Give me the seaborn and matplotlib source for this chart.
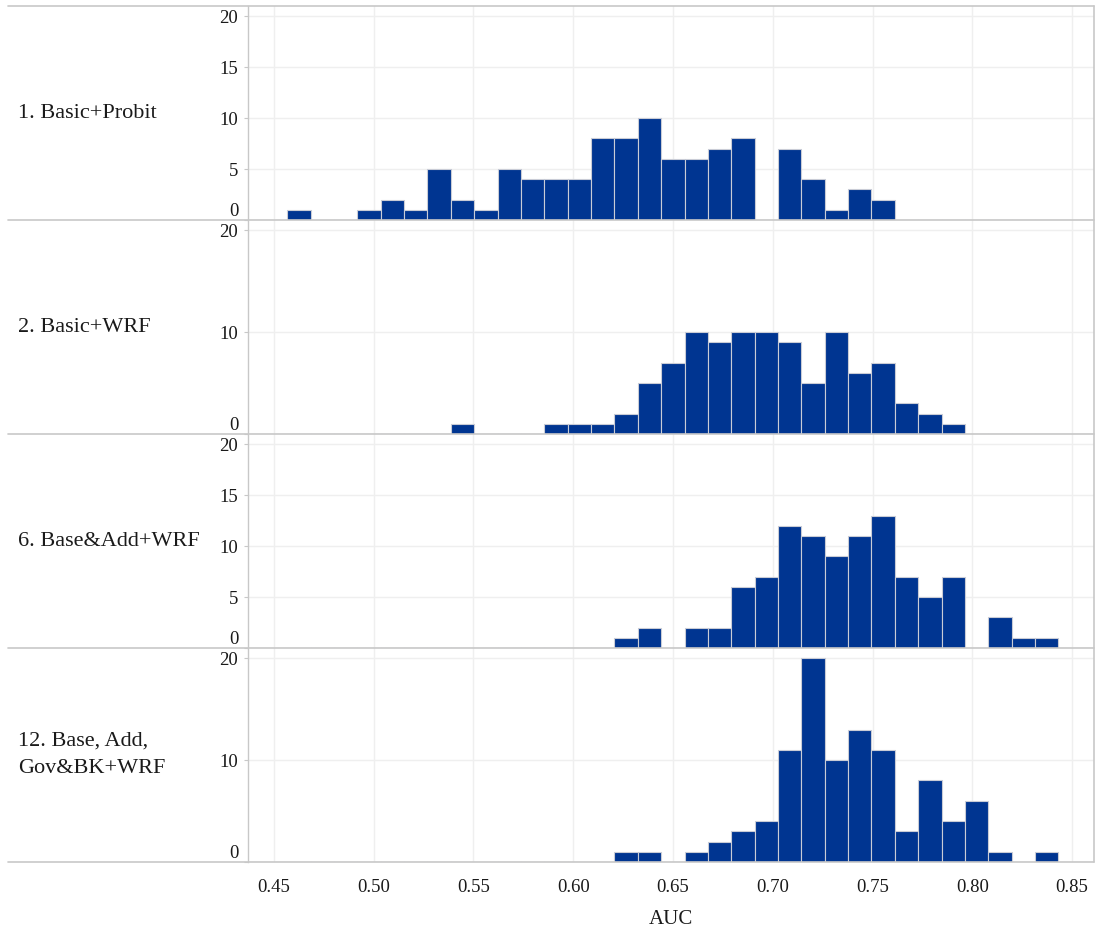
import numpy as np
import pandas as pd
import matplotlib
matplotlib.use("Agg")
import matplotlib.pyplot as plt
import matplotlib.transforms as mtransforms
from matplotlib.lines import Line2D
import seaborn as sns

# Histogram bins (AUC), 33 bins of equal width
bin_start = 0.4567
bin_width = 0.01171
n_bins = 33

model_labels = [
    "1. Basic+Probit",
    "2. Basic+WRF",
    "6. Base&Add+WRF",
    "12. Base, Add,\nGov&BK+WRF",
]

# counts per bin
counts_probit = [1, 0, 0, 1, 2, 1, 5, 2, 1, 5, 4, 4, 4, 8, 8, 10, 6, 6, 7, 8,
                 0, 7, 4, 1, 3, 2, 0, 0, 0, 0, 0, 0, 0]
counts_basic_wrf = [0, 0, 0, 0, 0, 0, 0, 1, 0, 0, 0, 1, 1, 1, 2, 5, 7, 10, 9, 10,
                    10, 9, 5, 10, 6, 7, 3, 2, 1, 0, 0, 0, 0]
counts_base_add = [0, 0, 0, 0, 0, 0, 0, 0, 0, 0, 0, 0, 0, 0, 1, 2, 0, 2, 2, 6,
                   7, 12, 11, 9, 11, 13, 7, 5, 7, 0, 3, 1, 1]
counts_gov_bk = [0, 0, 0, 0, 0, 0, 0, 0, 0, 0, 0, 0, 0, 0, 1, 1, 0, 1, 2, 3,
                 4, 11, 20, 10, 13, 11, 3, 8, 4, 6, 1, 0, 1]

all_counts = [counts_probit, counts_basic_wrf, counts_base_add, counts_gov_bk]
y_ticks = [[0, 5, 10, 15, 20], [0, 10, 20], [0, 5, 10, 15, 20], [0, 10, 20]]
x_ticks = [0.45, 0.50, 0.55, 0.60, 0.65, 0.70, 0.75, 0.80, 0.85]

edges = bin_start + bin_width * np.arange(n_bins + 1)
centers = (edges[:-1] + edges[1:]) / 2

sns.set_style("white")
plt.rcParams['font.family'] = ['Liberation Serif', 'DejaVu Serif']

bar_color = "#003591"
grid_color = "#efefef"
frame_color = "#c8c8c8"
text_color = "#1a1a1a"

W, H = 1097, 933
fig, axes = plt.subplots(4, 1, figsize=(W / 100, H / 100), dpi=100, sharex=True)
fig.subplots_adjust(left=248 / W, right=1094 / W, top=1 - 6 / H,
                    bottom=1 - 862 / H, hspace=0)

for ax, counts, label, yt in zip(axes, all_counts, model_labels, y_ticks):
    df = pd.DataFrame({"auc": centers, "n": counts})
    sns.histplot(data=df, x="auc", weights="n", bins=list(edges), ax=ax,
                 color=bar_color, edgecolor="#c9ccd6", linewidth=0.8,
                 alpha=1, zorder=3)
    ax.set_xlim(0.437, 0.861)
    ax.set_ylim(0, 21)
    ax.set_yticks(yt)
    ax.set_xticks(x_ticks)
    ax.set_ylabel("")
    ax.set_xlabel("")
    ax.grid(True, color=grid_color, linewidth=1, zorder=0)
    ax.set_axisbelow(True)
    for s in ["top", "right", "bottom"]:
        ax.spines[s].set_visible(False)
    ax.spines["left"].set_color(frame_color)
    ax.spines["left"].set_linewidth(1)
    ax.tick_params(axis="y", length=3, color=frame_color, labelsize=13.5,
                   labelcolor=text_color, pad=4, left=True)
    ax.tick_params(axis="x", length=0, labelsize=13.5, labelcolor=text_color,
                   pad=12)
    ax.get_yticklabels()[0].set_verticalalignment("bottom")
    tr = mtransforms.blended_transform_factory(fig.transFigure, ax.transAxes)
    ax.text(18 / W, 0.5, label, transform=tr, fontsize=16, color=text_color,
            ha="left", va="center", linespacing=1.6)

axes[-1].set_xticklabels([f"{v:.2f}" for v in x_ticks])
axes[-1].set_xlabel("AUC", fontsize=15, labelpad=10, color=text_color)

# panel separators and outer frame
for y in [6, 220, 434, 648, 862]:
    fig.add_artist(Line2D([8 / W, 1094 / W], [1 - y / H, 1 - y / H],
                          color=frame_color, linewidth=1.2))
fig.add_artist(Line2D([1094 / W, 1094 / W], [1 - 6 / H, 1 - 862 / H],
                      color=frame_color, linewidth=1.2))

plt.savefig("out.png", dpi=100)
